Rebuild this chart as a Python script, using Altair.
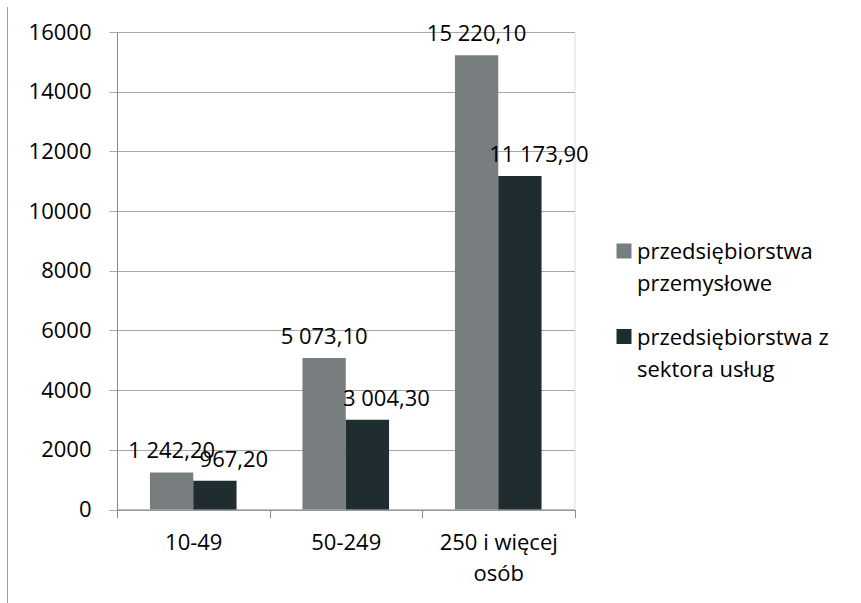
import altair as alt
import pandas as pd

# Wartości dla klas wielkości przedsiębiorstw
categories = ["10-49", "50-249", "250 i więcej osób"]
series = ["przedsiębiorstwa przemysłowe", "przedsiębiorstwa z sektora usług"]
industry = [1242.20, 5073.10, 15220.10]
services = [967.20, 3004.30, 11173.90]
colors = ["#787E7F", "#1F2D30"]
y_ticks = [0, 2000, 4000, 6000, 8000, 10000, 12000, 14000, 16000]

FONT = "Open Sans"
AXIS_DARK = "#878B8C"
GRID = "#A6A9AA"

rows = []
for cat, a, b in zip(categories, industry, services):
    rows.append({"kat": cat, "seria": series[0], "wartosc": a})
    rows.append({"kat": cat, "seria": series[1], "wartosc": b})
df = pd.DataFrame(rows)


def pl_format(v):
    # Polish style: space as thousands separator, comma as decimal mark
    return f"{v:,.2f}".replace(",", " ").replace(".", ",")


df["etykieta"] = df["wartosc"].map(pl_format)

x_enc = alt.X(
    "kat:N",
    sort=categories,
    scale=alt.Scale(paddingInner=0, paddingOuter=0),
    axis=alt.Axis(
        title=None,
        labelAngle=0,
        tickBand="extent",
        tickSize=8,
        tickColor=AXIS_DARK,
        domainColor=AXIS_DARK,
        labelFont=FONT,
        labelFontSize=22,
        labelColor="#000000",
        labelPadding=15,
        labelLineHeight=31,
        labelExpr="datum.label == '250 i więcej osób' ? ['250 i więcej', 'osób'] : datum.label",
        grid=False,
    ),
)
xoff_enc = alt.XOffset(
    "seria:N", sort=series, scale=alt.Scale(paddingInner=0, paddingOuter=0.761)
)
y_enc = alt.Y(
    "wartosc:Q",
    scale=alt.Scale(domain=[0, 16000], nice=False),
    axis=alt.Axis(
        title=None,
        values=y_ticks,
        format="d",
        tickSize=8,
        tickColor=GRID,
        domainColor=AXIS_DARK,
        gridColor=GRID,
        labelFont=FONT,
        labelFontSize=22,
        labelColor="#000000",
        labelPadding=18,
    ),
)

# square swatch drawn slightly below the entry anchor so it sits on the first text line
SWATCH = "M-1,0.2H1V2.2H-1Z"

bars = (
    alt.Chart(df)
    .mark_bar()
    .encode(
        x=x_enc,
        xOffset=xoff_enc,
        y=y_enc,
        color=alt.Color(
            "seria:N",
            sort=series,
            scale=alt.Scale(domain=series, range=colors),
            legend=alt.Legend(
                title=None,
                orient="none",
                legendX=496,
                legendY=199,
                padding=0,
                symbolType=SWATCH,
                symbolSize=225,
                symbolStrokeWidth=0,
                labelFont=FONT,
                labelFontSize=22,
                labelColor="#000000",
                labelOffset=2,
                labelLimit=400,
                labelBaseline="top",
                rowPadding=21.5,
                labelExpr=(
                    "datum.label == 'przedsiębiorstwa przemysłowe' "
                    "? ['przedsiębiorstwa', 'przemysłowe'] "
                    ": ['przedsiębiorstwa z', 'sektora usług']"
                ),
            ),
        ),
    )
)


def value_labels(name, shift):
    return (
        alt.Chart(df)
        .transform_filter(alt.datum.seria == name)
        .mark_text(
            font=FONT,
            fontSize=22,
            color="#000000",
            baseline="alphabetic",
            dy=-14,
            dx=shift,
        )
        .encode(x=x_enc, xOffset=xoff_enc, y=y_enc, text="etykieta:N")
    )


frame_line = (
    alt.Chart(pd.DataFrame({"k": [0]}))
    .mark_rule(color="#A0A0A0", strokeWidth=1)
    .encode(x=alt.value(-109.5), y=alt.value(-25), y2=alt.value(575))
)

chart = (
    alt.layer(bars, value_labels(series[0], 0), value_labels(series[1], 19), frame_line)
    .properties(
        width=457.5,
        height=477.5,
        padding={"left": 117, "top": 32, "right": 286.5, "bottom": 93.5},
        autosize=alt.AutoSizeParams(type="none"),
        background="#FFFFFF",
    )
    .configure_view(stroke=None)
    .configure(style={"guide-label": {"lineHeight": 32}})
)

chart.save("out.html", embed_options={"renderer": "svg", "actions": False})
